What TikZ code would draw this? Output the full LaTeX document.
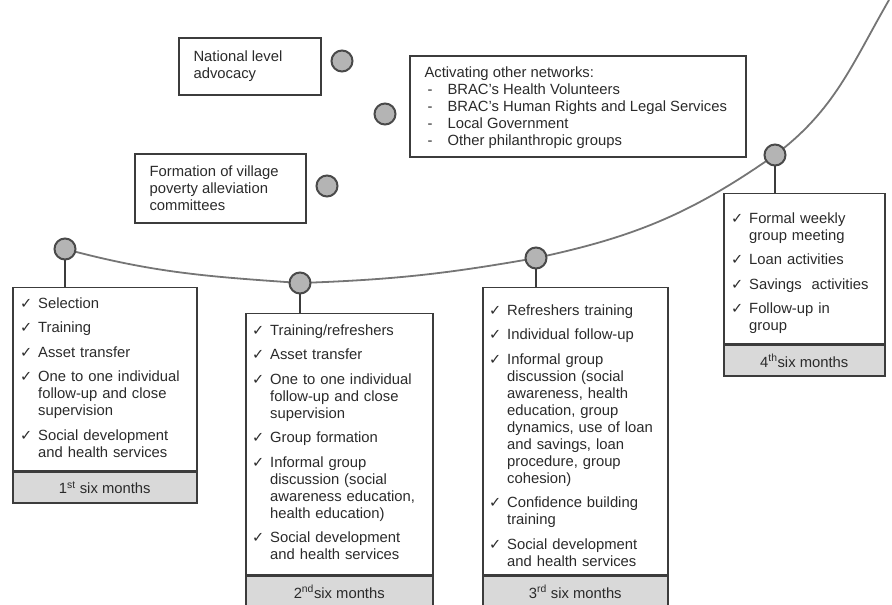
\documentclass[tikz,border=0pt]{standalone}
\usepackage{fontspec}
\setmainfont{Liberation Sans}
\newfontfamily\symfont{DejaVu Sans}
\usetikzlibrary{positioning,backgrounds}
\definecolor{boxline}{HTML}{3C3C3C}
\definecolor{txt}{HTML}{2A2A2A}
\definecolor{dotfill}{HTML}{B4B4B4}
\definecolor{dotline}{HTML}{4A4A4A}
\definecolor{curveline}{HTML}{757575}
\definecolor{bandfill}{HTML}{D9D9D9}
\tikzset{dot/.style={circle,draw=dotline,fill=dotfill,line width=2pt,minimum size=21pt,inner sep=0pt},
  panel/.style={draw=boxline,line width=1.5pt,anchor=north west,inner sep=0pt},
  band/.style={draw=boxline,line width=1.5pt,fill=bandfill,anchor=north,minimum height=31pt,inner sep=0pt},
  items/.style={anchor=north west,inner sep=0pt,text width=#1,align=left},
  note/.style={draw=boxline,line width=1.3pt,inner sep=0pt},
  notetext/.style={anchor=west,align=left,inner sep=0pt},
  stem/.style={draw=boxline,line width=2pt},
  timeline/.style={draw=curveline,line width=1.8pt}}
\newcommand{\ticksym}{{\symfont\fontsize{14.5}{14}\selectfont ✓}}
\newcommand{\chk}[1]{\par\hangindent=18pt\hangafter=1\noindent\makebox[18pt][l]{\ticksym}#1\par\vspace{7.5pt}}
\newcommand{\dashline}{\makebox[23pt][l]{\hspace{3pt}-}}

\begin{document}
\begin{tikzpicture}[x=1pt,y=1pt,font=\fontsize{14.8}{17}\selectfont,text=txt]
\useasboundingbox (0,0) rectangle (892,605);

% points on the curve
\node[dot] (c1) at (65,356) {};
\node[dot] (c2) at (300,322) {};
\node[dot] (c3) at (536,347) {};
\node[dot] (c4) at (775,450) {};
\coordinate (top) at (889,605);

% points above the curve
\node[dot] (n1) at (342,544) {};
\node[dot] (n2) at (385,491) {};
\node[dot] (n3) at (327,419) {};

\node[note,minimum width=142pt,minimum height=57pt] (adv) at (250,538.5) {};
\node[notetext] (advt) at ([xshift=15pt]adv.west) {National level\\advocacy};
\node[note,minimum width=336pt,minimum height=101pt] (net) at (578,498.5) {};
\node[notetext] (nett) at ([xshift=15pt,yshift=-1pt]net.west) {Activating other networks:\\
  \dashline BRAC's Health Volunteers\\
  \dashline BRAC's Human Rights and Legal Services\\
  \dashline Local Government\\
  \dashline Other philanthropic groups};
\node[note,minimum width=171pt,minimum height=69pt] (vil) at (220.5,416.5) {};
\node[notetext] (vilt) at ([xshift=15pt]vil.west) {Formation of village\\poverty alleviation\\committees};

% six month boxes
\node[panel,minimum width=184pt,minimum height=183pt] (p1) at (12,318) {};
\node[band,minimum width=184pt] (m1) at (p1.south) {1\textsuperscript{st} six months};
\node[items=174pt] (t1) at ([xshift=8pt,yshift=-4pt]p1.north west) {
  \chk{Selection}
  \chk{Training}
  \chk{Asset transfer}
  \chk{One to one individual\newline follow-up and close\newline supervision}
  \chk{Social development\newline and health services}};

\node[panel,minimum width=187pt,minimum height=261pt] (p2) at (245,292) {};
\node[band,minimum width=187pt] (m2) at (p2.south) {2\textsuperscript{nd}six months};
\node[items=177pt] (t2) at ([xshift=7pt,yshift=-5pt]p2.north west) {
  \chk{Training/refreshers}
  \chk{Asset transfer}
  \chk{One to one individual\newline follow-up and close\newline supervision}
  \chk{Group formation}
  \chk{Informal group\newline discussion (social\newline awareness education,\newline health education)}
  \chk{Social development\newline and health services}};

\node[panel,minimum width=185pt,minimum height=287pt] (p3) at (482,318) {};
\node[band,minimum width=185pt] (m3) at (p3.south) {3\textsuperscript{rd} six months};
\node[items=175pt] (t3) at ([xshift=7pt,yshift=-11pt]p3.north west) {
  \chk{Refreshers training}
  \chk{Individual follow-up}
  \chk{Informal group\newline discussion (social\newline awareness, health\newline education, group\newline dynamics, use of loan\newline and savings, loan\newline procedure, group\newline cohesion)}
  \chk{Confidence building\newline training}
  \chk{Social development\newline and health services}};

\node[panel,minimum width=161pt,minimum height=150pt] (p4) at (723,412) {};
\node[band,minimum width=161pt] (m4) at (p4.south) {4\textsuperscript{th}six months};
\node[items=151pt] (t4) at ([xshift=8pt,yshift=-13pt]p4.north west) {
  \chk{Formal weekly\newline group meeting}
  \chk{Loan activities}
  \chk{Savings\ \ activities}
  \chk{Follow-up in\newline group}};

% stems
\draw[stem] (c1) -- (c1 |- p1.north);
\draw[stem] (c2) -- (c2 |- p2.north);
\draw[stem] (c3) -- (c3 |- p3.north);
\draw[stem] (c4) -- (c4 |- p4.north);

\begin{pgfonlayer}{background}
\draw[timeline] (c1.center) to[out=-15,in=176] (c2.center) to[out=2,in=190] (c3.center)
  to[out=12,in=215] (c4.center) to[out=37,in=240] (top);
\end{pgfonlayer}
\end{tikzpicture}
\end{document}
